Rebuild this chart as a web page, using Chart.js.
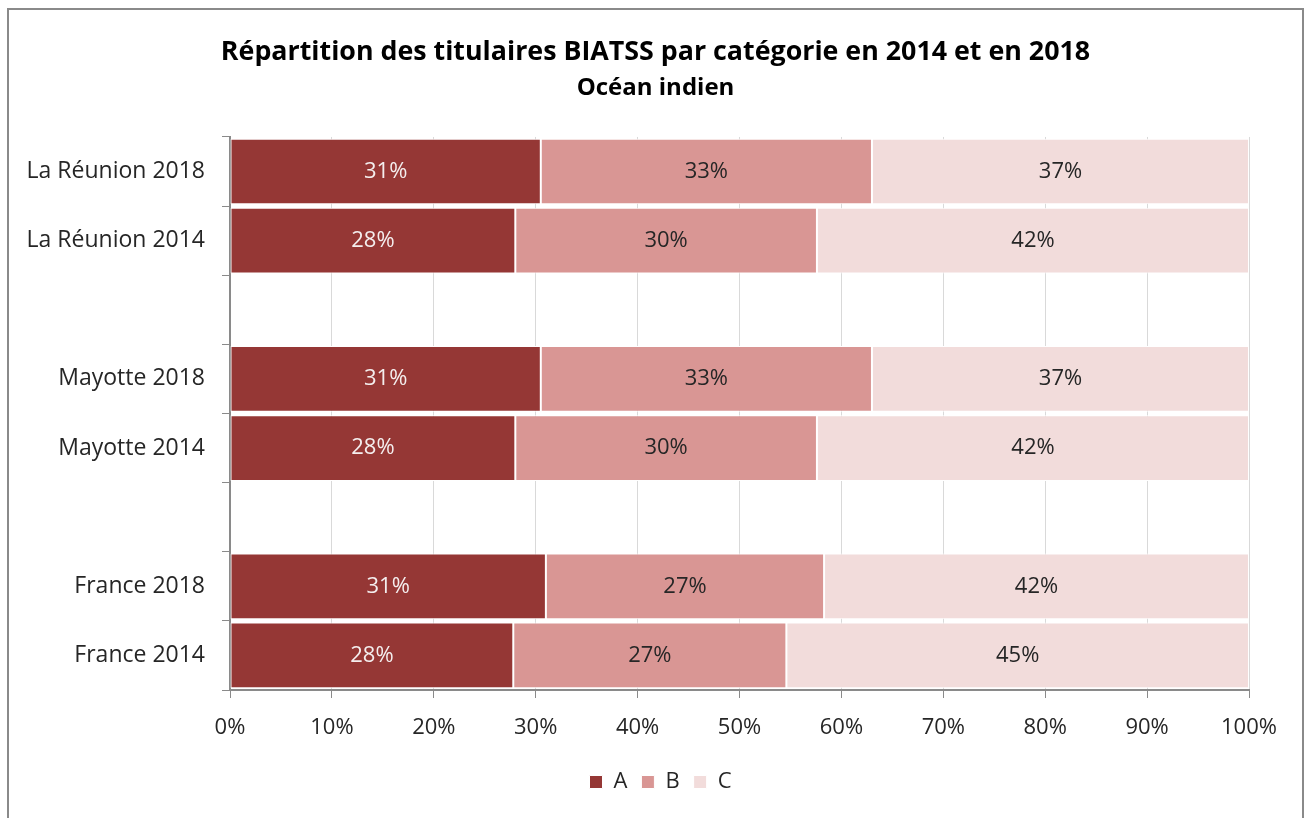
<!DOCTYPE html>
<html>
<head>
<meta charset="utf-8">
<script src="https://cdn.jsdelivr.net/npm/chart.js@4"></script>
<style>
  body { margin: 0; background: #fff; }
  #frame {
    position: absolute; left: 7px; top: 8px; width: 1297px; height: 830px;
    border: 2px solid #8a8a8a; box-sizing: border-box;
  }
  canvas { position: absolute; left: 0; top: 0; }
</style>
</head>
<body>
<div id="frame"></div>
<canvas id="myChart" width="1309" height="818"></canvas>
<script>
// Categories, top to bottom (empty strings are the spacer rows)
const categories = [
  "La Réunion 2018", "La Réunion 2014", "",
  "Mayotte 2018", "Mayotte 2014", "",
  "France 2018", "France 2014"
];
// Share of each category (%)
const valuesA = [30.5, 28.0, null, 30.5, 28.0, null, 31.0, 27.8];
const valuesB = [32.5, 29.6, null, 32.5, 29.6, null, 27.3, 26.8];
const valuesC = [37.0, 42.4, null, 37.0, 42.4, null, 41.7, 45.4];
const xTicks = [0, 10, 20, 30, 40, 50, 60, 70, 80, 90, 100];

const FONT = "'Open Sans'";
const textColor = "#262626";
const axisGrey = "#8a8a8a";

// Draws the percentage label in the middle of each bar segment
const segmentLabels = {
  id: "segmentLabels",
  afterDatasetsDraw(chart) {
    const ctx = chart.ctx;
    ctx.save();
    ctx.font = "22px " + FONT;
    ctx.textAlign = "center";
    ctx.textBaseline = "middle";
    chart.data.datasets.forEach((ds, i) => {
      const meta = chart.getDatasetMeta(i);
      meta.data.forEach((bar, j) => {
        const v = ds.data[j];
        if (v == null) return;
        const cx = (bar.x + bar.base) / 2;
        ctx.fillStyle = ds.labelColor;
        ctx.fillText(Math.round(v) + "%", cx, bar.y);
      });
    });
    ctx.restore();
  }
};

// Titles and legend in the original are centred on the whole picture,
// not on the padded layout box, so nudge them to the right
const centreShift = {
  id: "centreShift",
  afterLayout(chart) {
    chart.boxes.forEach((box) => {
      if (box === chart.legend) {
        box.left += 28;
        box.right += 28;
      } else if (box.position === "top" && box.options && box.options.text !== undefined) {
        box.left += 23;
        box.right += 23;
      }
    });
  }
};

const ctx = document.getElementById("myChart").getContext("2d");
const chart = new Chart(ctx, {
  type: "bar",
  data: {
    labels: categories,
    datasets: [
      { label: "A", data: valuesA, backgroundColor: "#953735", labelColor: "#f4eeee" },
      { label: "B", data: valuesB, backgroundColor: "#d99694", labelColor: textColor },
      { label: "C", data: valuesC, backgroundColor: "#f2dcdb", labelColor: textColor }
    ]
  },
  options: {
    indexAxis: "y",
    responsive: false,
    animation: false,
    datasets: {
      bar: {
        borderColor: "#ffffff",
        borderWidth: 1,
        borderSkipped: false,
        barPercentage: 0.95,
        categoryPercentage: 1
      }
    },
    layout: { padding: { left: 16, right: 60, top: 0, bottom: 15 } },
    scales: {
      x: {
        stacked: true,
        min: 0,
        max: 100,
        afterBuildTicks: (s) => { s.ticks = xTicks.map(v => ({ value: v })); },
        afterFit: (s) => { s.height = 67; },
        ticks: {
          color: textColor,
          font: { family: FONT, size: 22 },
          padding: 17,
          maxRotation: 0,
          callback: (v) => v + "%"
        },
        grid: { color: "#d9d9d9", tickColor: axisGrey, tickLength: 8, lineWidth: 1 },
        border: { color: axisGrey, width: 2 }
      },
      y: {
        stacked: true,
        afterFit: (s) => { s.width = 214; },
        ticks: {
          color: textColor,
          font: { family: FONT, size: 23 },
          padding: 17
        },
        grid: { offset: true, drawOnChartArea: false, tickColor: axisGrey, tickLength: 8 },
        border: { color: axisGrey, width: 2 }
      }
    },
    plugins: {
      title: {
        display: true,
        text: "Répartition des titulaires BIATSS par catégorie en 2014 et en 2018",
        color: "#000",
        font: { family: FONT, size: 26.8, weight: "bold" },
        padding: { top: 36, bottom: 6 }
      },
      subtitle: {
        display: true,
        text: "Océan indien",
        color: "#000",
        font: { family: FONT, size: 24, weight: "bold" },
        padding: { top: 0, bottom: 34 }
      },
      legend: {
        position: "bottom",
        labels: {
          color: textColor,
          font: { family: FONT, size: 22 },
          boxWidth: 13,
          boxHeight: 13,
          padding: 14
        }
      },
      tooltip: { enabled: false }
    }
  },
  plugins: [segmentLabels, centreShift]
});
</script>
</body>
</html>
